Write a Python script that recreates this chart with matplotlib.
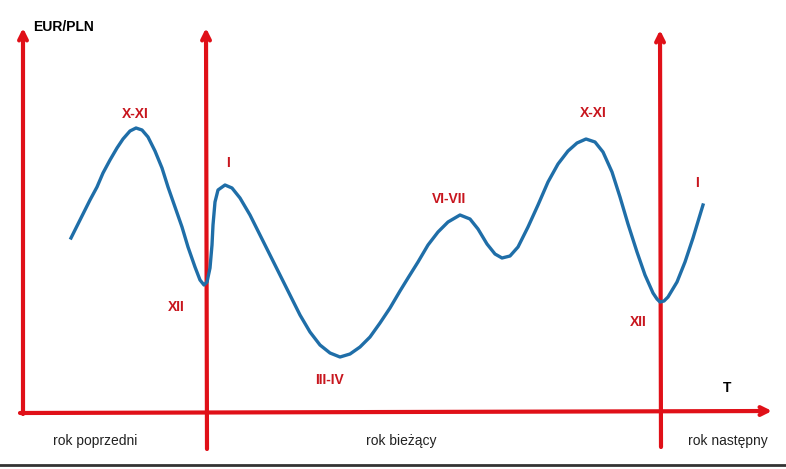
import matplotlib.pyplot as plt

# kurs EUR/PLN - schemat sezonowosci (wspolrzedne)
czas = [71, 77, 83, 90, 97, 103, 110, 117, 123, 130, 136, 142, 148, 155, 162,
        168, 175, 182, 188, 195, 200, 204, 207, 210, 212, 213, 215, 218, 225,
        232, 240, 250, 260, 270, 280, 290, 300, 310, 320, 330, 340, 350, 360,
        370, 380, 390, 400, 408, 418, 428, 438, 448, 460, 470, 478, 487, 495,
        502, 510, 518, 528, 538, 548, 558, 568, 577, 586, 595, 603, 612, 620,
        628, 637, 645, 653, 657, 660, 664, 668, 677, 685, 693, 703]
kurs = [238, 226, 214, 200, 187, 173, 160, 148, 139, 131, 128, 130, 137, 151,
        168, 187, 207, 227, 247, 267, 280, 285, 282, 268, 245, 225, 202, 190,
        185, 188, 198, 215, 235, 255, 275, 295, 315, 332, 345, 353, 357, 354,
        347, 337, 323, 308, 291, 278, 262, 245, 232, 222, 215, 219, 229, 244,
        254, 258, 256, 247, 227, 205, 182, 164, 151, 143, 139, 142, 152, 172,
        197, 224, 252, 275, 293, 299, 302, 301, 297, 282, 262, 238, 205]

miesiace = ["X-XI", "I", "XII", "III-IV", "VI-VII", "X-XI", "I", "XII"]
miesiace_x = [135, 228, 176, 330, 449, 593, 697, 638]
miesiace_y = [114, 163, 307, 380, 199, 113, 183, 322]

lata = ["rok poprzedni", "rok bieżący", "rok następny"]
lata_x = [95, 401, 728]

red = "#e01018"
red_txt = "#c8161e"
blue = "#1f6ea8"

fig = plt.figure(figsize=(7.86, 4.69), dpi=100)
ax = fig.add_axes([0, 0, 1, 1])
ax.set_xlim(0, 786)
ax.set_ylim(469, 0)
ax.axis("off")

arrow = dict(arrowstyle="->", lw=3, color=red, mutation_scale=14,
             shrinkA=0, shrinkB=0)
# osie
ax.annotate("", xy=(23, 28), xytext=(23, 414), arrowprops=arrow)
ax.annotate("", xy=(772, 411), xytext=(20, 413), arrowprops=arrow)
ax.annotate("", xy=(206, 28), xytext=(207, 449), arrowprops=arrow)
ax.annotate("", xy=(660, 30), xytext=(661, 447), arrowprops=arrow)

ax.plot(czas, kurs, color=blue, lw=2.4, solid_joinstyle="round", zorder=3)

for s, x, y in zip(miesiace, miesiace_x, miesiace_y):
    ax.text(x, y, s, color=red_txt, fontsize=10, fontweight="bold",
            ha="center", va="center", family=["Liberation Sans", "DejaVu Sans"])

for s, x in zip(lata, lata_x):
    ax.text(x, 441, s, color="#222222", fontsize=10, ha="center", va="center",
            family=["Liberation Sans Narrow", "Liberation Sans", "DejaVu Sans"])

ax.text(33, 27, "EUR/PLN", fontsize=10, fontweight="bold", ha="left", va="center",
        family=["Liberation Sans", "DejaVu Sans"])
ax.text(727, 388, "T", fontsize=10, fontweight="bold", ha="center", va="center",
        family=["Liberation Sans", "DejaVu Sans"])

# ramka na dole obrazka
ax.plot([0, 786], [465, 465], color="#333333", lw=2)

fig.savefig("out.png", dpi=100)
